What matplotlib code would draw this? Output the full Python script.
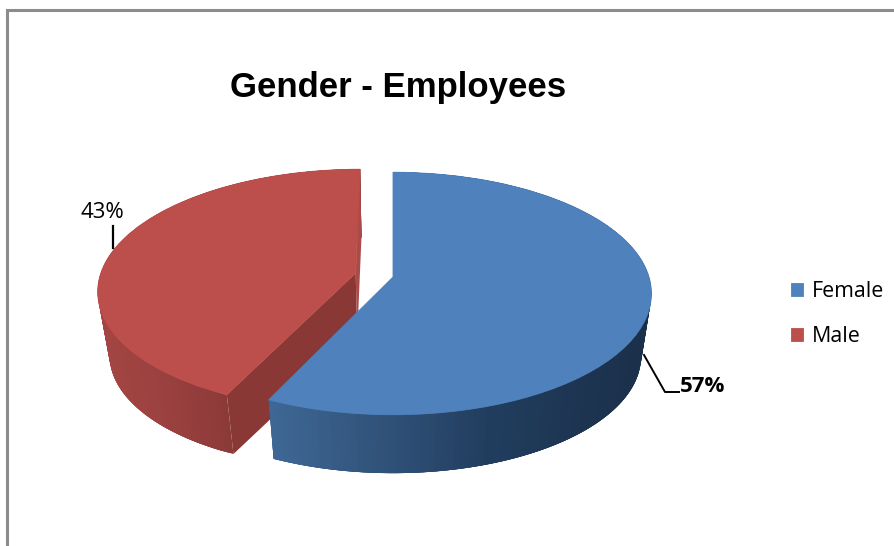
import numpy as np
import matplotlib
matplotlib.use("Agg")
import matplotlib.pyplot as plt
from matplotlib.transforms import Transform
from matplotlib.colors import LinearSegmentedColormap

labels = ["Female", "Male"]
values = [57, 43]
explode = [0, 0.15]
colors = ["#4f81bd", "#bc4f4c"]
title = "Gender - Employees"


class Projection(Transform):
    """Perspective view of a unit-circle pie plane, to pixel coordinates."""
    input_dims = output_dims = 2
    has_inverse = False
    is_separable = False

    def __init__(self, scale=1.0, drop=0.0):
        super().__init__()
        self.scale, self.drop = scale, drop

    def transform_non_affine(self, values):
        xy = np.asarray(values, float)
        d = 1 + 0.136 * xy[:, 1]
        return np.column_stack([393 + self.scale * 256 * xy[:, 0] / d,
                                277 + self.drop - self.scale * 119 * xy[:, 1] / d])


top = Projection()
bottom = Projection(0.96, 64)

fig = plt.figure(figsize=(8.95, 5.46), dpi=100)
ax = fig.add_axes([0, 0, 1, 1])

wedges, _ = ax.pie(values, explode=explode, colors=colors, startangle=90,
                   counterclock=False, radius=1)
ax.set_aspect("auto")
ax.set_xlim(0, 895)
ax.set_ylim(546, 0)
ax.axis("off")


def quad(p, q, color, z):
    pts = np.vstack([top.transform_non_affine(np.array([p, q])),
                     bottom.transform_non_affine(np.array([q, p]))])
    ax.fill(pts[:, 0], pts[:, 1], facecolor=color, edgecolor="none", lw=0, zorder=z)


blue_side = LinearSegmentedColormap.from_list(
    "b", [(0, "#3f6795"), (0.35, "#2e4f75"), (0.6, "#213d5e"), (1, "#1b304a")])
red_side = LinearSegmentedColormap.from_list(
    "r", [(0, "#a34543"), (0.5, "#9a413f"), (1, "#8b3a38")])

total = sum(values)
start = 90.0
for i, (v, ex, wedge, color) in enumerate(zip(values, explode, wedges, colors)):
    end = start - 360.0 * v / total
    mid = np.radians((start + end) / 2)
    c = np.array([ex * np.cos(mid), ex * np.sin(mid)])
    z = {0: 4, 1: 2}[i]
    angs = np.linspace(start, end, 160)
    rim = c + np.column_stack([np.cos(np.radians(angs)), np.sin(np.radians(angs))])
    px = top.transform_non_affine(rim)[:, 0]
    for k in range(len(angs) - 1):
        if i == 0:
            col = blue_side(np.clip((px[k] - 273) / 370, 0, 1))
        else:
            col = red_side(np.clip((px[k] - 100) / 130, 0, 1))
        # each strip overlaps the next ones so that no seams show
        quad(rim[k], rim[min(k + 4, len(angs) - 1)], col, z)
    if i == 1:
        quad(c, rim[-1], "#a94b49", z)  # thin far cut face
        quad(c, rim[0], "#893836", z)   # large cut face towards the viewer
    wedge.set_transform(top + ax.transData)
    wedge.set_zorder(z + 0.5)
    wedge.set_edgecolor(color)
    wedge.set_linewidth(0.6)
    start = end

# frame
ax.plot([7.5, 7.5, 895], [546, 9.5, 9.5], color="#8c8c8c", lw=2.2, zorder=1,
        solid_joinstyle="miter", clip_on=False)

ax.text(398.5, 88, title, ha="center", va="center", fontsize=25, fontweight="bold",
        family="Liberation Sans", color="black")

# data labels with leader lines
ax.plot([113, 113], [226, 248], color="black", lw=1.6, zorder=6)
ax.plot([644, 665, 679], [355, 392, 392], color="black", lw=1.4, zorder=6)
ax.text(102, 213, f"{values[1]}%", ha="center", va="center", fontsize=16,
        family="Open Sans", color="black")
ax.text(703, 387, f"{values[0]}%", ha="center", va="center", fontsize=16,
        fontweight="bold", family="Open Sans", color="black")

ax.legend(wedges, labels, loc="center left", bbox_to_anchor=(791 / 895, 1 - 314 / 546),
          frameon=False, prop={"family": "Open Sans", "size": 15.4}, handlelength=0.56,
          handleheight=0.56, handletextpad=0.42, labelspacing=1.1, borderpad=0,
          borderaxespad=0)

fig.savefig("out.png", dpi=100)
